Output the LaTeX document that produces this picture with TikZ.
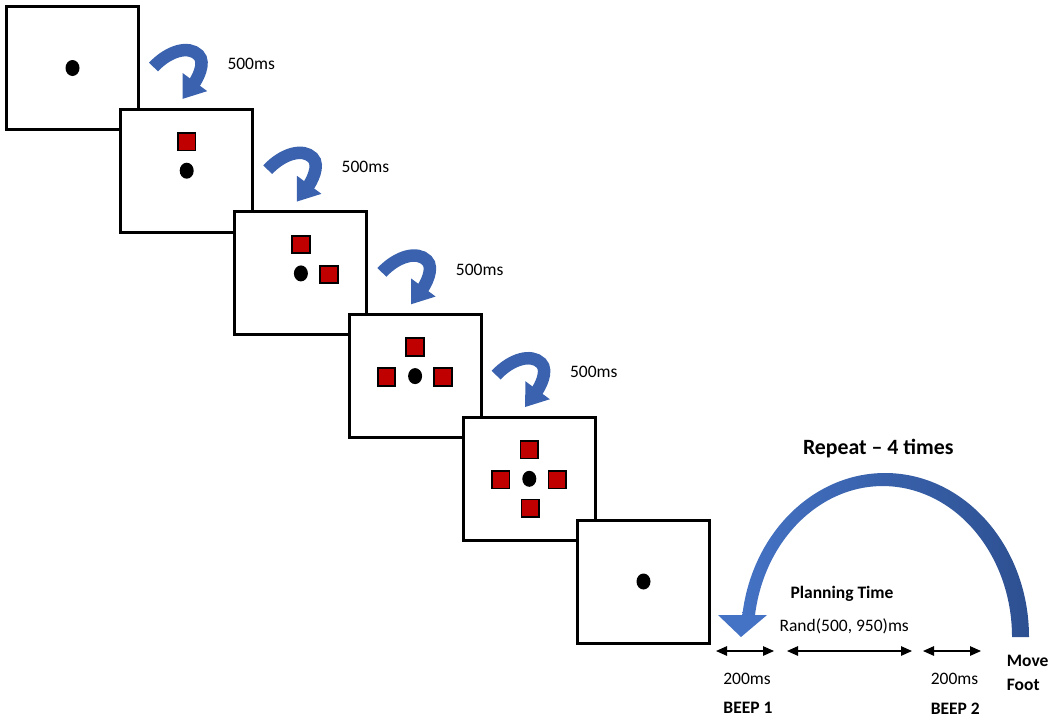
\documentclass[tikz,border=0pt]{standalone}
\usepackage{fontspec}
\setmainfont{Carlito}
\usetikzlibrary{arrows.meta,positioning,shapes.geometric}

\definecolor{sqred}{RGB}{192,0,0}
\definecolor{waitblue}{RGB}{58,98,174}
\definecolor{bigdark}{RGB}{45,80,145}
\definecolor{biglight}{RGB}{68,114,196}

\tikzset{
  screen/.style={draw, fill=white, line width=3pt, minimum width=132pt, minimum height=123pt, inner sep=0pt},
  fix/.style={ellipse, fill=black, minimum width=14pt, minimum height=16pt, inner sep=0pt},
  target/.style={draw, fill=sqred, line width=1.8pt, minimum size=17.5pt, inner sep=0pt},
  wait/.style={line width=12.5pt, waitblue, -{Triangle[width=29pt,length=21pt]}},
  lbl/.style={font=\fontsize{17.5}{21}\selectfont, inner sep=0pt},
  blbl/.style={font=\fontsize{17.5}{21}\selectfont\bfseries, inner sep=0pt},
  span/.style={line width=1.3pt, {Triangle[width=9.5pt,length=11pt]}-{Triangle[width=9.5pt,length=11pt]}}
}

\begin{document}
\begin{tikzpicture}[x=1pt,y=1pt]

  \newcommand\SX{114.2};
  \newcommand\SY{102.7};

  \useasboundingbox (0,0) rectangle (1054,-721);

  % screens, each one over the last
  \foreach \i [count=\n from 0] in {1,...,6}
    \node[screen] (s\i) at (72.5+\n*\SX, -68-\n*\SY) {};

  \foreach \i in {1,...,6}
    \node[fix] (d\i) at (s\i.center) {};

  \foreach \i in {2,...,5}
    \node[target] (t\i) at ([yshift=29pt]d\i.center) {};
  \foreach \i in {3,4,5}
    \node[target] (r\i) at ([xshift=28pt,yshift=-1pt]d\i.center) {};
  \foreach \i in {4,5}
    \node[target] (l\i) at ([xshift=-28.5pt,yshift=-1pt]d\i.center) {};
  \node[target] (b5) at ([xshift=1pt,yshift=-29.5pt]d5.center) {};

  % 500ms waits
  \foreach \i in {1,...,4}{
    \begin{scope}[shift={(s\i.center)}]
      \draw[wait] (81,1) .. controls (96,17) and (116,23) .. (126,13)
        .. controls (134,5) and (124,-12) .. (110,-31);
      \node[lbl, anchor=west] (w\i) at (154.8,4) {500ms};
    \end{scope}
  }

  % repeat arrow
  \shade[left color=biglight, right color=bigdark]
    (1029,-637) arc[start angle=0, end angle=172.3, x radius=144, y radius=164]
    -- (755,-615) arc[start angle=171.6, end angle=0, x radius=129.2, y radius=151] -- cycle;
  \fill[biglight] (718,-615) -- (767,-615) -- (741,-637) -- cycle;

  \node[font=\fontsize{21.8}{26}\selectfont\bfseries, inner sep=0pt] (rep) at (878.3,-448.3) {Repeat – 4 times};
  \node[blbl] (plan) at (842,-594) {Planning Time};
  \node[lbl] (rand) at (844.2,-626.7) {Rand(500, 950)ms};

  % time line
  \coordinate (a1) at (716,-651);
  \coordinate (a2) at (774,-651);
  \coordinate (a3) at (787,-651);
  \coordinate (a4) at (912,-651);
  \coordinate (a5) at (923,-651);
  \coordinate (a6) at (981,-651);
  \draw[span] (a1) -- (a2);
  \draw[span] (a3) -- (a4);
  \draw[span] (a5) -- (a6);

  \node[lbl] (m1) at (747,-679.3) {200ms};
  \node[blbl] (beep1) at (748,-708.3) {BEEP 1};
  \node[lbl] (m2) at (954.5,-679.3) {200ms};
  \node[blbl] (beep2) at (955.3,-708.3) {BEEP 2};
  \node[blbl, anchor=west] (move) at (1006.7,-661) {Move};
  \node[blbl, anchor=west] (foot) at (1006.7,-685) {Foot};

%  \draw[help lines] (0,0) grid[step=50] (1054,-721);

\end{tikzpicture}
\end{document}
